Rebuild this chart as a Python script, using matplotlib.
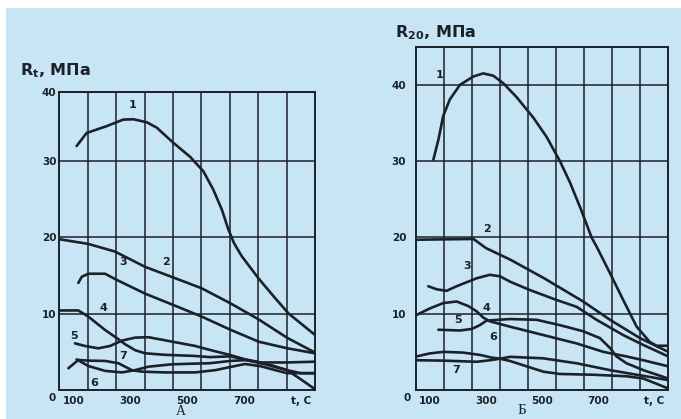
import matplotlib
matplotlib.use('Agg')
import matplotlib.pyplot as plt
from matplotlib.patches import Rectangle
import numpy as np

# chart A: R_t vs temperature
a1_t = [111, 146, 217, 275, 311, 358, 393, 452, 510, 557, 592, 622, 645, 665, 692, 751, 810, 857, 950]
a1_r = [31.9, 33.6, 34.5, 35.35, 35.4, 35.0, 34.3, 32.3, 30.5, 28.6, 26.2, 23.6, 21.0, 19.2, 17.5, 14.6, 12.0, 10.0, 7.2]
a2_t = [52, 152, 246, 352, 452, 551, 654, 753, 853, 950]
a2_r = [19.7, 19.1, 18.1, 16.1, 14.7, 13.3, 11.3, 9.2, 6.8, 4.9]
a3_t = [117, 129, 152, 211, 252, 352, 452, 551, 654, 753, 853, 950]
a3_r = [14.0, 14.8, 15.2, 15.2, 14.4, 12.6, 11.1, 9.6, 7.85, 6.3, 5.45, 4.8]
a4_t = [52, 117, 152, 211, 252, 281, 317, 352, 422, 528, 580, 651, 704, 745, 800, 851, 900, 950]
a4_r = [10.4, 10.4, 9.6, 7.85, 6.8, 6.0, 5.2, 4.8, 4.6, 4.45, 4.3, 4.4, 4.0, 3.6, 3.2, 2.6, 2.2, 2.2]
a5_t = [105, 140, 187, 229, 270, 317, 364, 422, 528, 580, 651, 704, 745, 804, 851, 900, 950]
a5_r = [6.1, 5.76, 5.45, 5.76, 6.45, 6.85, 6.9, 6.5, 5.76, 5.24, 4.58, 4.0, 3.71, 3.06, 2.62, 1.4, 0.1]
a6_t = [111, 152, 211, 270, 317, 364, 446, 528, 580, 651, 704, 760, 851, 950]
a6_r = [4.0, 3.14, 2.5, 2.3, 2.6, 3.05, 3.36, 3.45, 3.5, 3.8, 3.9, 3.6, 3.6, 3.7]
a7_t = [82, 117, 152, 211, 258, 305, 340, 422, 528, 600, 651, 704, 760, 810, 851, 950]
a7_r = [2.84, 3.93, 3.84, 3.8, 3.5, 2.6, 2.4, 2.3, 2.3, 2.6, 3.0, 3.4, 3.1, 2.6, 2.2, 2.2]

# chart Б: R_20 vs temperature
b1_t = [112, 130, 147, 171, 207, 255, 290, 326, 362, 409, 469, 516, 564, 600, 640, 677, 695, 743, 790, 838, 885, 909, 951]
b1_r = [30.2, 32.8, 35.9, 38.1, 40.0, 41.1, 41.5, 41.2, 40.2, 38.4, 35.7, 33.2, 30.0, 27.2, 23.6, 20.0, 18.8, 15.3, 11.8, 8.3, 6.3, 5.8, 5.8]
b2_t = [52, 255, 300, 386, 505, 647, 743, 850, 951]
b2_r = [19.7, 19.8, 18.6, 17.1, 14.7, 11.6, 9.2, 6.8, 5.0]
b3_t = [94, 124, 159, 195, 267, 314, 350, 386, 457, 552, 624, 695, 790, 862, 951]
b3_r = [13.6, 13.2, 13.0, 13.6, 14.65, 15.1, 14.9, 14.2, 13.1, 11.8, 10.9, 9.2, 7.2, 5.9, 4.4]
b4_t = [52, 100, 148, 195, 237, 267, 290, 314, 386, 505, 624, 719, 802, 862, 951]
b4_r = [9.84, 10.7, 11.4, 11.6, 11.0, 10.3, 9.5, 9.0, 8.3, 7.2, 6.1, 5.0, 4.4, 3.9, 3.1]
b5_t = [130, 207, 249, 278, 302, 386, 481, 564, 647, 707, 743, 766, 802, 862, 951]
b5_r = [7.9, 7.8, 8.0, 8.5, 9.1, 9.3, 9.2, 8.5, 7.7, 6.8, 5.5, 4.4, 3.5, 2.6, 1.5]
b6_t = [52, 100, 148, 219, 278, 320, 350, 386, 505, 624, 743, 838, 951]
b6_r = [4.4, 4.8, 5.0, 4.9, 4.6, 4.25, 4.1, 4.35, 4.15, 3.5, 2.6, 2.0, 1.3]
b7_t = [52, 148, 267, 314, 350, 386, 445, 505, 564, 683, 802, 862, 951]
b7_r = [3.9, 3.85, 3.7, 3.9, 4.1, 3.8, 3.1, 2.4, 2.1, 2.0, 1.8, 1.5, 0.2]

x_labels = ['100', '300', '500', '700', 't, C']
curve_names = ['1', '2', '3', '4', '5', '6', '7']
a_label_pos = [(308, 37.3), (424, 16.7), (275, 16.8), (205, 10.7), (102, 7.1), (172, 0.9), (275, 4.4)]
b_label_pos = [(133, 41.3), (302, 21.1), (231, 16.2), (302, 10.7), (201, 9.2), (326, 7.0), (195, 2.6)]

BG = '#c8e5f6'
INK = '#1b2128'

fig = plt.figure(figsize=(6.81, 4.19), dpi=100)
fig.patch.set_facecolor('white')
fig.patches.append(Rectangle((6 / 681, 0), 1, 411 / 419, transform=fig.transFigure,
                             facecolor=BG, edgecolor='none', zorder=-10))


def draw(ax, curves, label_pos, ymax, yticks, ylabels, ypad):
    ax.set_facecolor(BG)
    ax.set_xlim(50, 950)
    ax.set_ylim(0, ymax)
    ax.set_xticks([100, 300, 500, 700, 900])
    ax.set_xticklabels(x_labels)
    ax.set_xticks(np.arange(150, 950, 100), minor=True)
    ax.set_yticks(yticks)
    ax.set_yticklabels(ylabels)
    ax.tick_params(which='both', length=0, labelsize=7.5, colors=INK)
    ax.tick_params(axis='x', pad=4)
    ax.tick_params(axis='y', pad=ypad)
    for lab in ax.get_xticklabels() + ax.get_yticklabels():
        lab.set_fontweight('bold')
    ax.grid(which='minor', axis='x', color=INK, lw=1.1)
    ax.grid(which='major', axis='y', color=INK, lw=1.1)
    for s in ax.spines.values():
        s.set_color(INK)
        s.set_linewidth(1.4)
    for t, r in curves:
        ax.plot(t, r, color=INK, lw=1.9, solid_capstyle='round', solid_joinstyle='round')
    for name, (x, y) in zip(curve_names, label_pos):
        ax.text(x, y, name, fontsize=8, fontweight='bold', color=INK, ha='center', va='center')


ax1 = fig.add_axes([59.3 / 681, 1 - 390 / 419, (315 - 59.3) / 681, (390 - 91.7) / 419])
draw(ax1, [(a1_t, a1_r), (a2_t, a2_r), (a3_t, a3_r), (a4_t, a4_r), (a5_t, a5_r), (a6_t, a6_r), (a7_t, a7_r)],
     a_label_pos, 39, [10, 20, 30, 39], ['10', '20', '30', '40'], 2)

ax2 = fig.add_axes([416 / 681, 1 - 390 / 419, (668 - 416) / 681, (390 - 46.7) / 419])
draw(ax2, [(b1_t, b1_r), (b2_t, b2_r), (b3_t, b3_r), (b4_t, b4_r), (b5_t, b5_r), (b6_t, b6_r), (b7_t, b7_r)],
     b_label_pos, 45, [10, 20, 30, 40], ['10', '20', '30', '40'], 7)

# origin labels and titles
fig.text(52 / 681, 1 - 398 / 419, '0', fontsize=7.5, fontweight='bold', color=INK, ha='center', va='center')
fig.text(407 / 681, 1 - 398 / 419, '0', fontsize=7.5, fontweight='bold', color=INK, ha='center', va='center')
fig.text(20 / 681, 1 - 71 / 419, r'R$_\mathregular{t}$, МПа', fontsize=11.5, fontweight='bold',
         color=INK, ha='left', va='center')
fig.text(395 / 681, 1 - 33 / 419, r'R$_\mathregular{20}$, МПа', fontsize=11.5, fontweight='bold',
         color=INK, ha='left', va='center')
fig.text(181 / 681, 1 - 411 / 419, 'А', fontsize=10, family='Liberation Serif', color=INK,
         ha='center', va='center')
fig.text(522 / 681, 1 - 410 / 419, 'Б', fontsize=11, family='Liberation Serif', color=INK,
         ha='center', va='center')

fig.savefig('out.png', dpi=100, facecolor=fig.get_facecolor())
